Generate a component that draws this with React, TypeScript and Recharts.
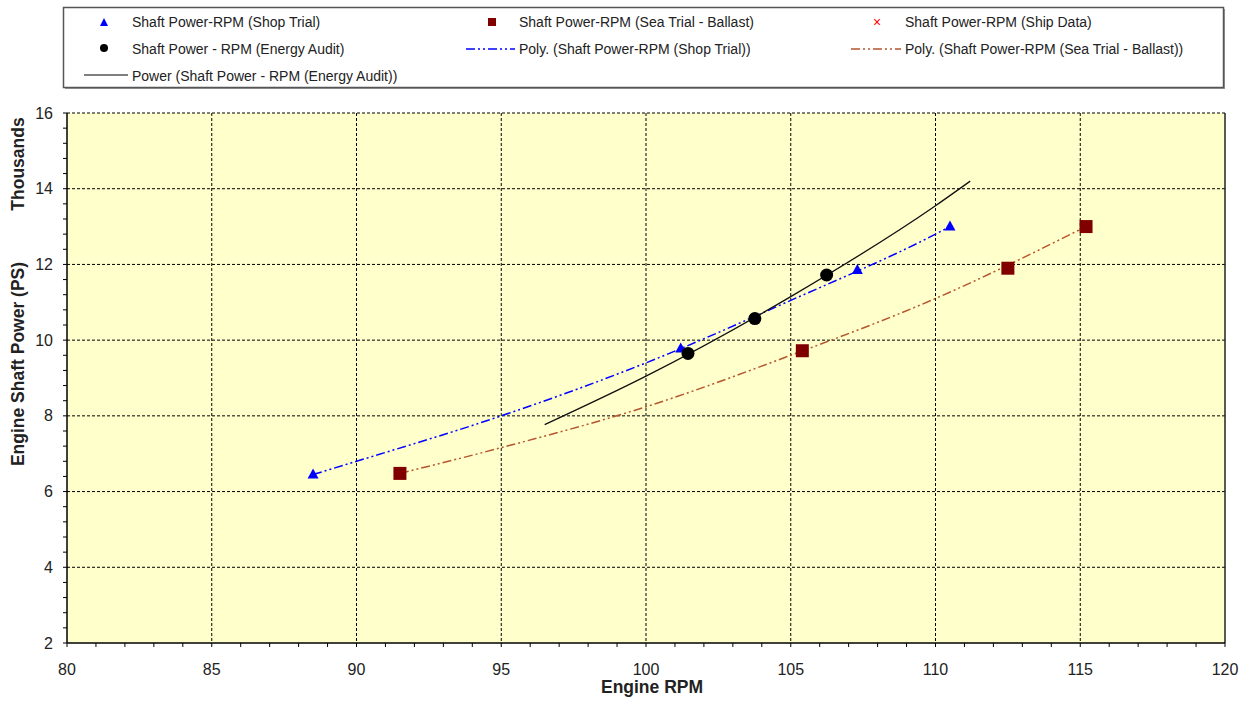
import {
  ScatterChart,
  Scatter,
  XAxis,
  YAxis,
  CartesianGrid,
  ReferenceLine,
  Label,
} from "recharts";

// measured points (power in thousands of PS)
const shopRpm = [88.5, 101.2, 107.3, 110.5];
const shopPower = [6.45, 9.78, 11.85, 13.0];
const seaRpm = [91.5, 105.4, 112.5, 115.2];
const seaPower = [6.48, 9.72, 11.9, 13.0];
const auditRpm = [101.45, 103.76, 106.24];
const auditPower = [9.65, 10.57, 11.72];

// trendlines
const shopFitRpm = [88.5, 90, 95, 100, 105, 110, 110.5];
const shopFitPower = [6.45, 6.8, 8.0, 9.4, 11.05, 12.8, 13.0];
const seaFitRpm = [91.5, 95, 100, 105, 110, 115.2];
const seaFitPower = [6.48, 7.16, 8.24, 9.6, 11.1, 13.0];
const auditFitRpm = [96.5, 100, 105, 110, 111.2];
const auditFitPower = [7.77, 9.05, 11.15, 13.55, 14.2];

const xMajor = [80, 85, 90, 95, 100, 105, 110, 115, 120];
const yMajor = [2, 4, 6, 8, 10, 12, 14, 16];
const xTicks = Array.from({ length: 41 }, (_, i) => 80 + i);
const yTicks = Array.from({ length: 36 }, (_, i) => Math.round((2 + i * 0.4) * 10) / 10);

const zip = (xs: number[], ys: number[]) => xs.map((x, i) => ({ x, y: ys[i] }));

const FONT = "'Liberation Sans', Arial, sans-serif";
const BLUE = "#0000FF";
const MAROON = "#800000";
const BROWN = "#B4562E";
const DASH = "9 3 2 3 2 3";

const Triangle = (p: any) => (
  <polygon
    points={`${p.cx},${p.cy - 6} ${p.cx - 5.5},${p.cy + 4} ${p.cx + 5.5},${p.cy + 4}`}
    fill={BLUE}
  />
);
const Square = (p: any) => <rect x={p.cx - 6.5} y={p.cy - 6.5} width={13} height={13} fill={MAROON} />;
const Dot = (p: any) => <circle cx={p.cx} cy={p.cy} r={6.5} fill="#000" />;
const NoShape = () => <g />;

const XTick = (p: any) => {
  const v = p.payload.value;
  if (!xMajor.includes(v)) return <g />;
  return (
    <text x={p.x} y={p.y} dy="0.71em" textAnchor="middle" fontSize={16} fontFamily={FONT} fill="#222">
      {v}
    </text>
  );
};
const YTick = (p: any) => {
  const v = p.payload.value;
  if (!yMajor.includes(v)) return <g />;
  return (
    <text x={p.x} y={p.y} dy="0.35em" textAnchor="end" fontSize={16} fontFamily={FONT} fill="#222">
      {v}
    </text>
  );
};

const YTitle = (props: any) => {
  const { viewBox } = props;
  const x = 18;
  const cy = viewBox.y + viewBox.height / 2 - 14;
  const ty = viewBox.y + 51;
  return (
    <g fontFamily={FONT} fontSize={17.5} fontWeight="bold" fill="#222">
      <text x={x} y={cy} transform={`rotate(-90 ${x} ${cy})`} textAnchor="middle" dominantBaseline="central">
        Engine Shaft Power (PS)
      </text>
      <text x={x} y={ty} transform={`rotate(-90 ${x} ${ty})`} textAnchor="middle" dominantBaseline="central">
        Thousands
      </text>
    </g>
  );
};

function ChartLegend() {
  const t = { fontFamily: FONT, fontSize: 14, fill: "#222", dominantBaseline: "central" as const };
  return (
    <svg width={1257} height={100} style={{ position: "absolute", left: 0, top: 0 }}>
      <rect x={65} y={9} width={1160} height={80} fill="#999" />
      <rect x={63.5} y={7.5} width={1160} height={80} fill="#fff" stroke="#555" strokeWidth={1.5} />
      <polygon points="104,18 100,26 108,26" fill={BLUE} />
      <text x={132} y={22} {...t}>Shaft Power-RPM (Shop Trial)</text>
      <rect x={488} y={18} width={8} height={8} fill={MAROON} />
      <text x={519} y={22} {...t}>Shaft Power-RPM (Sea Trial - Ballast)</text>
      <text x={877} y={22} textAnchor="middle" fontFamily={FONT} fontSize={14} fill="#FF0000" dominantBaseline="central">×</text>
      <text x={905} y={22} {...t}>Shaft Power-RPM (Ship Data)</text>
      <circle cx={104} cy={48} r={4} fill="#000" />
      <text x={132} y={49} {...t}>Shaft Power  - RPM  (Energy Audit)</text>
      <line x1={466} y1={49} x2={515} y2={49} stroke={BLUE} strokeWidth={1.5} strokeDasharray={DASH} />
      <text x={519} y={49} {...t}>Poly. (Shaft Power-RPM (Shop Trial))</text>
      <line x1={851} y1={49} x2={901} y2={49} stroke={BROWN} strokeWidth={1.5} strokeDasharray={DASH} />
      <text x={905} y={49} {...t}>Poly. (Shaft Power-RPM (Sea Trial - Ballast))</text>
      <line x1={84} y1={75} x2={128} y2={75} stroke="#000" strokeWidth={1.2} />
      <text x={132} y={76} {...t}>Power (Shaft Power - RPM (Energy Audit))</text>
    </svg>
  );
}

export default function App() {
  return (
    <div style={{ position: "absolute", left: 0, top: 0, width: 1257, height: 702, background: "#fff" }}>
      <ScatterChart width={1257} height={702} margin={{ top: 113, right: 32, bottom: 19, left: 27 }}>
        <CartesianGrid
          stroke="#000"
          strokeDasharray="3 2"
          fill="#FFFFCC"
          fillOpacity={1}
          verticalValues={[85, 90, 95, 100, 105, 110, 115]}
          horizontalValues={[4, 6, 8, 10, 12, 14, 16]}
        />
        <XAxis
          type="number"
          dataKey="x"
          domain={[80, 120]}
          ticks={xTicks}
          interval={0}
          tick={XTick}
          tickSize={4}
          tickMargin={17}
          height={40}
          axisLine={{ stroke: "#000", strokeWidth: 1.5 }}
          tickLine={{ stroke: "#000" }}
        >
          <Label
            value="Engine RPM"
            position="bottom"
            offset={-2}
            dx={6}
            style={{ fontFamily: FONT, fontSize: 17.5, fontWeight: "bold", fill: "#222" }}
          />
        </XAxis>
        <YAxis
          type="number"
          dataKey="y"
          domain={[2, 16]}
          ticks={yTicks}
          interval={0}
          tick={YTick}
          tickSize={4}
          tickMargin={10}
          width={40}
          axisLine={{ stroke: "#000", strokeWidth: 1.5 }}
          tickLine={{ stroke: "#000" }}
        >
          <Label content={YTitle} />
        </YAxis>
        <ReferenceLine x={120} stroke="#222" strokeWidth={1.5} />
        <Scatter
          data={zip(shopFitRpm, shopFitPower)}
          line={{ stroke: BLUE, strokeWidth: 1.5, strokeDasharray: DASH }}
          lineJointType="monotoneX"
          shape={NoShape}
          isAnimationActive={false}
        />
        <Scatter
          data={zip(seaFitRpm, seaFitPower)}
          line={{ stroke: BROWN, strokeWidth: 1.5, strokeDasharray: DASH }}
          lineJointType="monotoneX"
          shape={NoShape}
          isAnimationActive={false}
        />
        <Scatter
          data={zip(auditFitRpm, auditFitPower)}
          line={{ stroke: "#111", strokeWidth: 1.3 }}
          lineJointType="monotoneX"
          shape={NoShape}
          isAnimationActive={false}
        />
        <Scatter data={zip(shopRpm, shopPower)} shape={Triangle} isAnimationActive={false} />
        <Scatter data={zip(seaRpm, seaPower)} shape={Square} isAnimationActive={false} />
        <Scatter data={zip(auditRpm, auditPower)} shape={Dot} isAnimationActive={false} />
      </ScatterChart>
      <ChartLegend />
    </div>
  );
}
